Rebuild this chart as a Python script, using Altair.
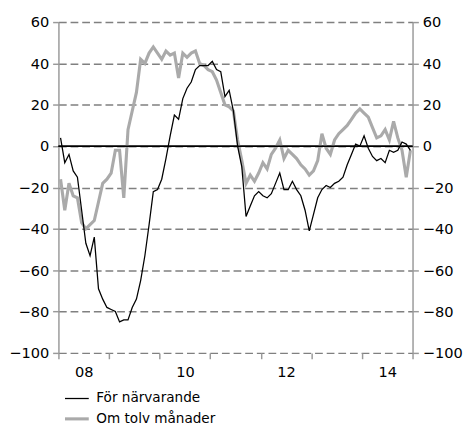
import altair as alt
import pandas as pd

SERIES = ["För närvarande", "Om tolv månader"]
YEAR_LABELS = ["08", "10", "12", "14"]
Y_TICKS = [-100, -80, -60, -40, -20, 0, 20, 40, 60]

# Monthly values, Jan 2008 - Dec 2014
NOW = [4, -8, -4, -12, -15, -31, -47, -53, -44, -69, -74, -78,
       -79, -80, -85, -84, -84, -78, -74, -65, -53, -38, -22, -21,
       -16, -6, 5, 15, 13, 23, 28, 31, 37, 39, 39, 39,
       41, 37, 36, 24, 27, 17, 0, -10, -34, -29, -24, -22,
       -24, -25, -23, -18, -13, -21, -21, -17, -21, -24, -31, -41,
       -33, -25, -21, -19, -20, -18, -17, -15, -9, -4, 1, 0,
       5, -1, -5, -7, -6, -8, -2, -3, -2, 2, 1, -2]
TWELVE = [-16, -31, -18, -24, -25, -37, -40, -38, -36, -27, -18, -16,
          -13, -2, -2, -25, 8, 17, 26, 42, 40, 45, 48, 45,
          42, 46, 44, 45, 33, 45, 43, 45, 46, 40, 39, 37,
          36, 32, 26, 20, 19, 17, 3, -7, -18, -14, -17, -13,
          -8, -11, -4, -1, 3, -6, -2, -4, -6, -9, -11, -14,
          -12, -7, 6, -1, -4, 3, 6, 8, 10, 13, 16, 18,
          16, 14, 9, 4, 5, 8, 3, 12, 4, -2, -15, -2]

rows = []
for i, v in enumerate(NOW):
    rows.append({"t": i + 0.5, "v": v, "s": SERIES[0]})
for i, v in enumerate(TWELVE):
    rows.append({"t": i + 0.5, "v": v, "s": SERIES[1]})
df = pd.DataFrame(rows)

FONT = "DejaVu Sans"
label_map = " : ".join(
    f"datum.value == {6 + 24 * k} ? '{lab}'" for k, lab in enumerate(YEAR_LABELS)
) + " : ''"

x_axis = alt.Axis(
    values=list(range(0, 85, 6)), title=None, domain=False, grid=False,
    tickColor="#999999", tickSize=6, tickWidth=1.5,
    tickOpacity={"condition": {"test": "datum.value % 12 == 0", "value": 1}, "value": 0},
    labelExpr=label_map, labelFontSize=15, labelFont=FONT, labelColor="black",
    labelPadding=6, labelFlush=False,
)
xs = alt.X("t:Q", scale=alt.Scale(domain=[0, 84], nice=False, zero=False), axis=x_axis)

def y_axis(orient, grid):
    return alt.Axis(
        orient=orient, values=Y_TICKS, title=None, grid=grid,
        gridDash=[8, 4], gridColor="#808080", gridWidth=1.5,
        domainColor="#999999", domainWidth=1.5,
        tickColor="#999999", tickSize=6, tickWidth=1.5,
        labelFontSize=15, labelFont=FONT, labelColor="black", labelPadding=4,
        minExtent=50, maxExtent=50,
    )

yscale = alt.Scale(domain=[-100, 60], nice=False, zero=False)

color = alt.Color("s:N", scale=alt.Scale(domain=SERIES, range=["black", "#aaaaaa"]),
                  legend=alt.Legend(title=None, orient="none", legendX=5, legendY=375,
                                    labelFontSize=14, labelFont=FONT, labelColor="black",
                                    symbolType="stroke", symbolSize=600, rowPadding=-7,
                                    labelOffset=6))
width = alt.StrokeWidth("s:N", scale=alt.Scale(domain=SERIES, range=[1.3, 3.2]), legend=None)

base = alt.Chart(df)
grey = base.transform_filter(alt.datum.s == SERIES[1]).mark_line().encode(
    x=xs, y=alt.Y("v:Q", scale=yscale, axis=y_axis("left", True)), color=color, strokeWidth=width)
black = base.transform_filter(alt.datum.s == SERIES[0]).mark_line().encode(
    x=xs, y=alt.Y("v:Q", scale=yscale, axis=y_axis("left", True)), color=color, strokeWidth=width)
zero = alt.Chart(pd.DataFrame({"z": [0]})).mark_rule(color="black", strokeWidth=1.5).encode(
    y=alt.Y("z:Q", scale=yscale, axis=y_axis("right", False)))

left = alt.layer(zero.encode(y=alt.Y("z:Q", scale=yscale, axis=y_axis("left", True))), grey, black)
right = zero

chart = alt.layer(left, right).resolve_scale(y="independent").properties(
    width=365, height=341, padding={"left": 0, "top": 1, "right": 0, "bottom": 0}
).configure_view(stroke=None)

chart.save("out.html", embed_options={"renderer": "svg", "actions": False})
